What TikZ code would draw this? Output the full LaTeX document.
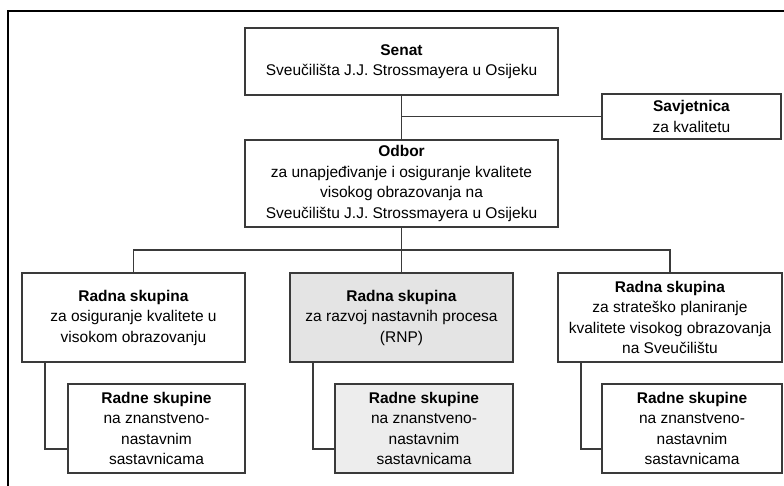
\documentclass[tikz,border=0pt]{standalone}
\usepackage{fontspec}
\setmainfont{Liberation Sans}
\definecolor{linec}{HTML}{3A3A3A}
\definecolor{fillA}{HTML}{E4E4E4}
\definecolor{fillB}{HTML}{EDEDED}
\begin{document}
\begin{tikzpicture}[x=1pt,y=-1pt,
  box/.style={draw=linec, line width=1.5pt, align=center, inner sep=0pt, font=\fontsize{15.5}{20.5}\selectfont},
  conn/.style={draw=linec, line width=1.5pt},
  frame/.style={draw=black, line width=2.2pt}]
\useasboundingbox (0,0) rectangle (784,486);
\draw[frame] (8,490) -- (8,11) -- (790,11);

\node[box, minimum width=313pt, minimum height=67pt] (senat) at (401.5,61.5)
  {\textbf{Senat}\\Sveučilišta J.J. Strossmayera u Osijeku};
\node[box, minimum width=179pt, minimum height=45pt] (sav) at (691.5,116.5)
  {\textbf{Savjetnica}\\za kvalitetu};
\node[box, minimum width=313pt, minimum height=87pt] (odbor) at (401.5,183.5)
  {\textbf{Odbor}\\za unapjeđivanje i osiguranje kvalitete\\visokog obrazovanja na\\Sveučilištu J.J. Strossmayera u Osijeku};

\node[box, minimum width=223pt, minimum height=89pt] (l1) at (133.5,317.5)
  {\textbf{Radna skupina}\\za osiguranje kvalitete u\\visokom obrazovanju};
\node[box, fill=fillA, minimum width=223pt, minimum height=89pt] (m1) at (401.5,317.5)
  {\textbf{Radna skupina}\\za razvoj nastavnih procesa\\(RNP)};
\node[box, minimum width=224pt, minimum height=89pt] (r1) at (670,317.5)
  {\textbf{Radna skupina}\\za strateško planiranje\\kvalitete visokog obrazovanja\\na Sveučilištu};

\node[box, minimum width=177pt, minimum height=89pt] (l2) at (156.5,428.5)
  {\textbf{Radne skupine}\\na znanstveno-\\nastavnim\\sastavnicama};
\node[box, fill=fillB, minimum width=178pt, minimum height=89pt] (m2) at (424,428.5)
  {\textbf{Radne skupine}\\na znanstveno-\\nastavnim\\sastavnicama};
\node[box, minimum width=180pt, minimum height=89pt] (r2) at (692,428.5)
  {\textbf{Radne skupine}\\na znanstveno-\\nastavnim\\sastavnicama};

\draw[conn] (senat.south) -- (odbor.north);
\draw[conn] (sav.west) -- (sav.west -| senat.south);

\coordinate (busL) at (133.5,250);
\draw[conn] (odbor.south) -- (m1.north);
\draw[conn] (l1.north) -- (busL) -- (busL -| r1.north) -- (r1.north);

\coordinate (lk) at (45,449);
\coordinate (mk) at (313,449);
\coordinate (rk) at (581,449);
\draw[conn] (lk |- l1.south) -- (lk) -- (lk -| l2.west);
\draw[conn] (mk |- m1.south) -- (mk) -- (mk -| m2.west);
\draw[conn] (rk |- r1.south) -- (rk) -- (rk -| r2.west);
\end{tikzpicture}
\end{document}
